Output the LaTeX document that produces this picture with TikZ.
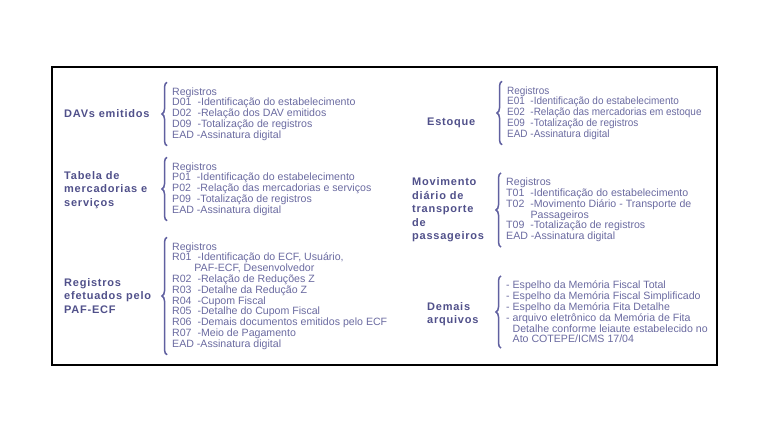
\documentclass[tikz,border=0pt]{standalone}
\usepackage{fontspec}
\setmainfont{Liberation Sans}
\newfontfamily\hdrfam[LetterSpace=7]{Liberation Sans}
\newfontfamily\narrowfam[FakeStretch=0.94]{Liberation Sans}
\usepackage{tikz}
\usepackage{xcolor}
\usetikzlibrary{positioning,decorations.pathreplacing}
\definecolor{hdrblue}{HTML}{50508A}
\definecolor{regblue}{HTML}{6A6AA0}
\definecolor{braceblue}{HTML}{6060A0}
\newcommand\hdrfont{\hdrfam\bfseries\fontsize{11}{13.5}\selectfont}
\newcommand\regfont{\fontsize{10.6}{10.8}\selectfont}
\tikzset{
  hdr/.style={font=\hdrfont,text=hdrblue,align=left,anchor=west,inner sep=0pt},
  reglist/.style={font=\regfont,text=regblue,align=left,anchor=west,
                  inner xsep=2pt,inner ysep=5pt},
  grpbrace/.style={decorate,decoration={brace,amplitude=5pt},
                   draw=braceblue,line width=1.5pt},
  frame/.style={draw=black,line width=2.5pt}
}
\begin{document}
\begin{tikzpicture}[x=1pt,y=-1pt]
    \path[use as bounding box] (0,0) rectangle (768,432);
    \draw[frame] (52,67) rectangle (717,365);

    % left column
    \node[hdr] (davh) at (64,114) {DAVs emitidos};
    \node[reglist] (dav) at (170,114)
      {Registros\\
       D01~~-Identificação do estabelecimento\\
       D02~~-Relação dos DAV emitidos\\
       D09~~-Totalização de registros\\
       EAD -Assinatura digital};

    \node[hdr] (tabh) at (64,190) {Tabela de\\mercadorias e\\serviços};
    \node[reglist] (tab) at (170,189)
      {Registros\\
       P01~~-Identificação do estabelecimento\\
       P02~~-Relação das mercadorias e serviços\\
       P09~~-Totalização de registros\\
       EAD -Assinatura digital};

    \node[hdr] (pafh) at (64,296) {Registros\\efetuados pelo\\PAF-ECF};
    \node[reglist] (paf) at (170,296)
      {Registros\\
       R01~~-Identificação do ECF, Usuário,\\
       \hspace{2.1em}PAF-ECF, Desenvolvedor\\
       R02~~-Relação de Reduções Z\\
       R03~~-Detalhe da Redução Z\\
       R04~~-Cupom Fiscal\\
       R05~~-Detalhe do Cupom Fiscal\\
       R06~~-Demais documentos emitidos pelo ECF\\
       R07~~-Meio de Pagamento\\
       EAD -Assinatura digital};

    % right column
    \node[hdr] (estqh) at (427,123) {Estoque};
    \node[reglist,font=\narrowfam\regfont] (estq) at (505,113)
      {Registros\\
       E01~~-Identificação do estabelecimento\\
       E02~~-Relação das mercadorias em estoque\\
       E09~~-Totalização de registros\\
       EAD -Assinatura digital};

    \node[hdr] (movh) at (412,210)
      {Movimento\\diário de\\transporte\\de\\passageiros};
    \node[reglist] (mov) at (504,210)
      {Registros\\
       T01~~-Identificação do estabelecimento\\
       T02~~-Movimento Diário - Transporte de\\
       \hspace{2.3em}Passageiros\\
       T09~~-Totalização de registros\\
       EAD -Assinatura digital};

    \node[hdr] (demh) at (427,314) {Demais\\arquivos};
    \node[reglist] (dem) at (504,312)
      {- Espelho da Memória Fiscal Total\\
       - Espelho da Memória Fiscal Simplificado\\
       - Espelho da Memória Fita Detalhe\\
       - arquivo eletrônico da Memória de Fita\\
       \phantom{- }Detalhe conforme leiaute estabelecido no\\
       \phantom{- }Ato COTEPE/ICMS 17/04};

    \foreach \g in {dav,tab,paf,estq,mov,dem}{
      \draw[grpbrace] ([xshift=-3pt]\g.south west) -- ([xshift=-3pt]\g.north west);
    }
  \end{tikzpicture}
\end{document}
